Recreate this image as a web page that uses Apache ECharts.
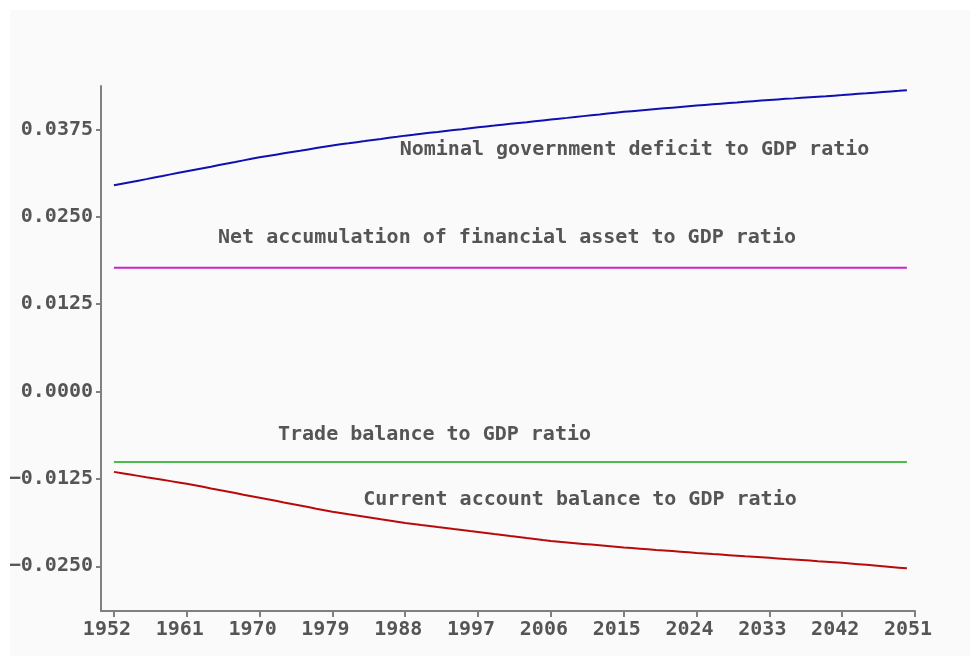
<!DOCTYPE html>
<html>
<head>
<meta charset="utf-8">
<script src="https://cdn.jsdelivr.net/npm/echarts@6/dist/echarts.min.js"></script>
<style>
  html, body { margin: 0; padding: 0; background: #ffffff; }
  #main { position: absolute; left: 10px; top: 10px; width: 960px; height: 646px; background: #fafafa; }
</style>
</head>
<body>
<div id="main"></div>
<script>
// annual data, 1952-2050
var startYear = 1952;
var yearTicks = [1952, 1961, 1970, 1979, 1988, 1997, 2006, 2015, 2024, 2033, 2042, 2051];
var valueTicks = [-0.025, -0.0125, 0, 0.0125, 0.025, 0.0375];

var govDeficit = [
  0.02950, 0.02972, 0.02994, 0.03016, 0.03038, 0.03061, 0.03083, 0.03106, 0.03128, 0.03150,
  0.03172, 0.03194, 0.03216, 0.03239, 0.03261, 0.03283, 0.03306, 0.03328, 0.03350,
  0.03369, 0.03388, 0.03407, 0.03426, 0.03444, 0.03463, 0.03482, 0.03501, 0.03520,
  0.03536, 0.03551, 0.03567, 0.03582, 0.03598, 0.03613, 0.03629, 0.03644, 0.03660,
  0.03673, 0.03687, 0.03700, 0.03713, 0.03727, 0.03740, 0.03753, 0.03767, 0.03780,
  0.03792, 0.03804, 0.03817, 0.03829, 0.03841, 0.03853, 0.03866, 0.03878, 0.03890,
  0.03902, 0.03914, 0.03927, 0.03939, 0.03951, 0.03963, 0.03976, 0.03988, 0.04000,
  0.04010, 0.04020, 0.04030, 0.04040, 0.04050, 0.04060, 0.04070, 0.04080, 0.04090,
  0.04099, 0.04108, 0.04117, 0.04126, 0.04134, 0.04143, 0.04152, 0.04161, 0.04170,
  0.04178, 0.04186, 0.04193, 0.04201, 0.04209, 0.04217, 0.04224, 0.04232, 0.04240,
  0.04249, 0.04258, 0.04266, 0.04275, 0.04284, 0.04293, 0.04301, 0.04310
];

var currentAccount = [
  -0.01150, -0.01169, -0.01188, -0.01207, -0.01226, -0.01244, -0.01263, -0.01282, -0.01301, -0.01320,
  -0.01342, -0.01364, -0.01387, -0.01409, -0.01431, -0.01453, -0.01476, -0.01498, -0.01520,
  -0.01542, -0.01564, -0.01587, -0.01609, -0.01631, -0.01653, -0.01676, -0.01698, -0.01720,
  -0.01738, -0.01756, -0.01773, -0.01791, -0.01809, -0.01827, -0.01844, -0.01862, -0.01880,
  -0.01894, -0.01909, -0.01923, -0.01938, -0.01952, -0.01967, -0.01981, -0.01996, -0.02010,
  -0.02024, -0.02039, -0.02053, -0.02068, -0.02082, -0.02097, -0.02111, -0.02126, -0.02140,
  -0.02150, -0.02160, -0.02170, -0.02180, -0.02190, -0.02200, -0.02210, -0.02220, -0.02230,
  -0.02239, -0.02248, -0.02257, -0.02266, -0.02274, -0.02283, -0.02292, -0.02301, -0.02310,
  -0.02318, -0.02326, -0.02333, -0.02341, -0.02349, -0.02357, -0.02364, -0.02372, -0.02380,
  -0.02388, -0.02396, -0.02403, -0.02411, -0.02419, -0.02427, -0.02434, -0.02442, -0.02450,
  -0.02460, -0.02470, -0.02480, -0.02490, -0.02500, -0.02510, -0.02520, -0.02530
];

// flat series, drawn between the first and last year
var flatYears = [1952, 2050];
var netAsset = [0.0177, 0.0177];
var tradeBalance = [-0.0101, -0.0101];

function annual(values) {
  return values.map(function (v, i) { return [startYear + i, v]; });
}
function pairs(xs, ys) {
  return xs.map(function (x, i) { return [x, ys[i]]; });
}

var textFont = 'bold 20px "DejaVu Sans Mono"';
var textColor = '#555555';

var myChart = echarts.init(document.getElementById('main'));
option = {
    backgroundColor: '#fafafa',
    animation: false,
    grid: { left: 91, top: 76, right: 55, bottom: 45, outerBoundsMode: 'none', containLabel: false },
    xAxis: {
        type: 'value',
        min: 1950.4,
        max: 2051,
        splitLine: { show: false },
        axisLine: { onZero: false, lineStyle: { color: '#808080', width: 2 } },
        axisTick: { customValues: yearTicks, length: 6, lineStyle: { color: '#808080', width: 2 } },
        axisLabel: {
            customValues: yearTicks,
            margin: 9,
            padding: [0, 14, 0, 0],
            color: textColor,
            fontFamily: 'DejaVu Sans Mono',
            fontWeight: 'bold',
            fontSize: 20,
            formatter: function (v) { return String(v); }
        }
    },
    yAxis: {
        type: 'value',
        min: -0.0314,
        max: 0.0437,
        splitLine: { show: false },
        axisLine: { show: true, onZero: false, lineStyle: { color: '#808080', width: 2 } },
        axisTick: { show: true, customValues: valueTicks, length: 5, lineStyle: { color: '#808080', width: 2 } },
        axisLabel: {
            customValues: valueTicks,
            margin: 8,
            color: textColor,
            fontFamily: 'DejaVu Sans Mono',
            fontWeight: 'bold',
            fontSize: 20,
            formatter: function (v) { return v.toFixed(4).replace('-', '\u2212'); }
        }
    },
    graphic: [
        { type: 'text', x: 624.5, y: 140, style: { text: 'Nominal government deficit to GDP ratio', font: textFont, fill: textColor, align: 'center', verticalAlign: 'middle' } },
        { type: 'text', x: 497, y: 228, style: { text: 'Net accumulation of financial asset to GDP ratio', font: textFont, fill: textColor, align: 'center', verticalAlign: 'middle' } },
        { type: 'text', x: 424.5, y: 425, style: { text: 'Trade balance to GDP ratio', font: textFont, fill: textColor, align: 'center', verticalAlign: 'middle' } },
        { type: 'text', x: 570, y: 490, style: { text: 'Current account balance to GDP ratio', font: textFont, fill: textColor, align: 'center', verticalAlign: 'middle' } }
    ],
    series: [
        { name: 'Nominal government deficit to GDP ratio', type: 'line', showSymbol: false,
          data: annual(govDeficit), lineStyle: { color: '#1010b0', width: 2 } },
        { name: 'Net accumulation of financial asset to GDP ratio', type: 'line', showSymbol: false,
          data: pairs(flatYears, netAsset), lineStyle: { color: '#cc22cc', width: 2 } },
        { name: 'Trade balance to GDP ratio', type: 'line', showSymbol: false,
          data: pairs(flatYears, tradeBalance), lineStyle: { color: '#4cbb4c', width: 2 } },
        { name: 'Current account balance to GDP ratio', type: 'line', showSymbol: false,
          data: annual(currentAccount), lineStyle: { color: '#b80a0a', width: 2 } }
    ]
};
myChart.setOption(option);
</script>
</body>
</html>
